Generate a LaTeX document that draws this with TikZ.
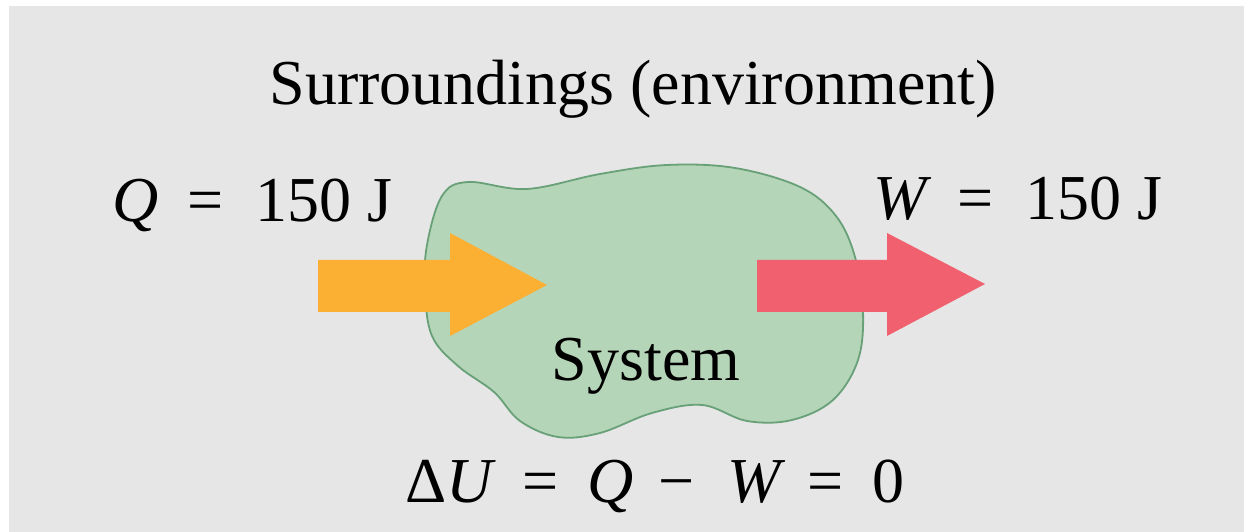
\documentclass[tikz,border=0pt]{standalone}
\usepackage{fontspec}
\setmainfont{Liberation Serif}
\definecolor{surrgray}{RGB}{230, 230, 231}
\definecolor{sysgreen}{RGB}{181, 213, 184}
\definecolor{sysedge}{RGB}{104, 160, 120}
\definecolor{heatorange}{RGB}{251, 176, 52}
\definecolor{workred}{RGB}{240, 96, 110}

\begin{document}
\begin{tikzpicture}[x=0.25pt, y=-0.25pt,
    lbl/.style={inner sep=0pt, font=\fontsize{16}{19}\selectfont},
    sysblob/.style={fill=sysgreen, draw=sysedge, line width=0.45pt},
    heatarr/.style={fill=heatorange},
    workarr/.style={fill=workred}
  ]
    \useasboundingbox (0,0) rectangle (1244,532);
    \fill[surrgray] (9,6) rectangle (1244,532);

    % the system
    \draw[sysblob] plot[smooth cycle, tension=0.6] coordinates {
      (427,245) (442,196) (468,182) (527,189) (600,174) (667,165) (735,168)
      (800,187) (836,216) (855,257) (863,310) (858,360) (833,400) (792,420)
      (747,421) (702,405) (652,413) (600,433) (558,437) (520,421) (494,392)
      (458,366) (432,336) (425,290)};

    % heat in, work out
    \fill[heatarr] (318,260) -- (450,260) -- (450,233) -- (547,285)
      -- (450,336) -- (450,312) -- (318,312) -- cycle;
    \fill[workarr] (757,260) -- (887,260) -- (887,233) -- (985,284)
      -- (887,336) -- (887,312) -- (757,312) -- cycle;

    \node[lbl, anchor=base] (surr) at (633,105) {Surroundings (environment)};
    \node[lbl, anchor=base west] (qlabel) at (112,222)
      {\textit{Q}\hspace{0.45em}=\hspace{0.5em}150 J};
    \node[lbl, anchor=base west] (wlabel) at (873,220)
      {\textit{W}\hspace{0.4em}=\hspace{0.5em}150 J};
    \node[lbl, anchor=base] (syslabel) at (646,381) {System};
    \node[lbl, anchor=base west] (energy) at (405,503)
      {Δ\textit{U}\hspace{0.4em}=\hspace{0.45em}\textit{Q}\hspace{0.4em}−\hspace{0.5em}\textit{W}\hspace{0.35em}=\hspace{0.45em}0};
  \end{tikzpicture}
\end{document}
